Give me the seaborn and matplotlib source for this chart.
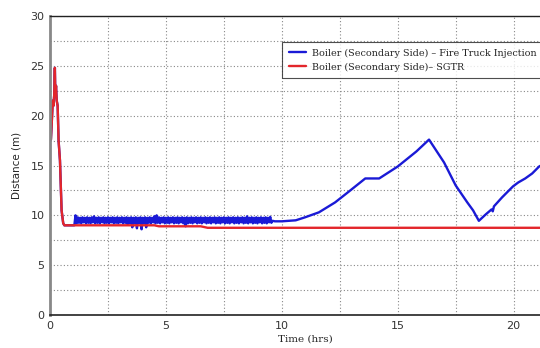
import numpy as np
import pandas as pd
import matplotlib
matplotlib.use("Agg")
import matplotlib.pyplot as plt
from matplotlib.ticker import MultipleLocator
import seaborn as sns

# --- Data ---
SERIES_BLUE = "Boiler (Secondary Side) \u2013 Fire Truck Injection"
SERIES_RED = "Boiler (Secondary Side)\u2013 SGTR"

red_t = [0.0, 0.04, 0.08, 0.12, 0.15, 0.18, 0.21, 0.23, 0.26, 0.29, 0.33, 0.37,
         0.43, 0.5, 0.57, 0.62, 4.5, 4.7, 6.5, 6.8, 22.0]
red_y = [17.5, 17.6, 19.5, 21.5, 21.0, 22.0, 24.8, 22.0, 23.0, 21.5, 21.0, 17.5,
         15.5, 10.5, 9.2, 9.0, 9.0, 8.9, 8.9, 8.75, 8.75]

# blue: start hidden under red, then noisy band, then smooth recovery
blue_start_t = [0.0, 0.04, 0.08, 0.12, 0.15, 0.18, 0.21, 0.23, 0.26, 0.29, 0.33,
                0.37, 0.43, 0.5, 0.57, 0.62, 1.05]
blue_start_y = [17.5, 17.6, 19.5, 21.5, 21.0, 22.0, 24.8, 22.0, 23.0, 21.5, 21.0,
                17.5, 15.5, 10.5, 9.2, 9.0, 9.0]

blue_noise_t = np.round(np.arange(1.1, 9.62, 0.05), 2)
blue_noise_y = [10.0, 9.2, 9.8, 9.25, 9.75, 9.2, 9.8, 9.3, 9.75, 9.2,
                9.8, 9.25, 9.75, 9.2, 9.8, 9.3, 9.9, 9.2, 9.75, 9.25,
                9.8, 9.2, 9.75, 9.3, 9.8, 9.2, 9.75, 9.25, 9.8, 9.2,
                9.75, 9.3, 9.8, 9.2, 9.75, 9.25, 9.8, 9.2, 9.75, 9.3,
                9.8, 9.2, 9.75, 9.25, 9.8, 9.1, 9.75, 9.2, 9.8, 8.8,
                9.75, 9.2, 9.8, 8.7, 9.75, 9.25, 9.8, 8.6, 9.75, 9.2,
                9.8, 8.8, 9.75, 9.25, 9.8, 9.2, 9.75, 9.3, 9.9, 9.2,
                10.0, 9.25, 9.8, 9.2, 9.75, 9.3, 9.8, 9.2, 9.75, 9.25,
                9.8, 9.2, 9.75, 9.3, 9.8, 9.2, 9.75, 9.25, 9.8, 9.2,
                9.75, 9.3, 9.8, 9.2, 9.75, 8.9, 9.8, 9.2, 9.75, 9.25,
                9.8, 9.2, 9.75, 9.3, 9.8, 9.2, 9.75, 9.25, 9.8, 9.2,
                9.75, 9.3, 9.8, 9.2, 9.75, 9.25, 9.8, 9.2, 9.75, 9.3,
                9.8, 9.2, 9.75, 9.25, 9.8, 9.2, 9.75, 9.3, 9.8, 9.2,
                9.75, 9.25, 9.8, 9.2, 9.75, 9.3, 9.8, 9.2, 9.75, 9.25,
                9.8, 9.2, 9.75, 9.3, 9.8, 9.2, 9.75, 9.25, 9.9, 9.2,
                9.75, 9.3, 9.8, 9.2, 9.75, 9.25, 9.8, 9.2, 9.75, 9.3,
                9.8, 9.2, 9.75, 9.25, 9.8, 9.2, 9.75, 9.3, 9.85, 9.25,
                9.45]

blue_end_t = [9.7, 10.0, 10.6, 11.0, 11.6, 12.3, 12.9, 13.6, 14.2, 15.0, 15.8,
              16.35, 17.0, 17.5, 18.0, 18.25, 18.5, 18.8, 19.05, 19.1, 19.15,
              19.5, 19.97, 20.2, 20.35, 20.5, 20.8, 21.1, 21.5]
blue_end_y = [9.4, 9.4, 9.5, 9.8, 10.3, 11.3, 12.4, 13.7, 13.7, 14.9, 16.4,
              17.6, 15.3, 13.0, 11.3, 10.5, 9.45, 10.1, 10.6, 10.4, 10.9,
              11.8, 12.9, 13.3, 13.5, 13.7, 14.2, 14.9, 15.4]

blue_t = list(blue_start_t) + list(blue_noise_t) + list(blue_end_t)
blue_y = list(blue_start_y) + list(blue_noise_y) + list(blue_end_y)

df = pd.concat([
    pd.DataFrame({"t": blue_t, "d": blue_y, "s": SERIES_BLUE}),
    pd.DataFrame({"t": red_t, "d": red_y, "s": SERIES_RED}),
])

# --- Plot ---
sns.set_style("white")
fig = plt.figure(figsize=(5.4, 3.48), dpi=100)
ax = fig.add_axes([50 / 540, 33 / 348, 510 / 540, 299 / 348])

sns.lineplot(data=df, x="t", y="d", hue="s", estimator=None, sort=False,
             palette={SERIES_BLUE: "#1a1ad6", SERIES_RED: "#e3262b"},
             linewidth=1.7, ax=ax)

ax.set_xlim(0, 22)
ax.set_ylim(0, 30)
ax.xaxis.set_major_locator(MultipleLocator(5))
ax.xaxis.set_minor_locator(MultipleLocator(2.5))
ax.yaxis.set_major_locator(MultipleLocator(5))
ax.yaxis.set_minor_locator(MultipleLocator(2.5))
ax.grid(True, which="both", linestyle=(0, (1, 2)), color="#888888", linewidth=0.8)
ax.tick_params(which="both", length=0, labelsize=8, pad=4, colors="#333333")
for lab in ax.get_xticklabels() + ax.get_yticklabels():
    lab.set_family("DejaVu Sans")

ax.spines["left"].set_color("#888888")
ax.spines["left"].set_linewidth(2)
ax.spines["bottom"].set_color("#222222")
ax.spines["bottom"].set_linewidth(1.2)
ax.spines["top"].set_color("#222222")
ax.spines["top"].set_linewidth(1.0)
ax.spines["right"].set_visible(False)

ax.set_xlabel("Time (hrs)", family="DejaVu Serif", fontsize=7.5, labelpad=3)
ax.set_ylabel("Distance (m)", family="DejaVu Sans", fontsize=7.5, labelpad=6)

# legend frame runs off the right edge, as in the reference
leg = ax.legend(loc="upper left", bbox_to_anchor=(282 / 540, 1 - 42 / 348),
                bbox_transform=fig.transFigure, frameon=True, fancybox=False,
                prop={"family": "DejaVu Serif", "size": 6.9}, handlelength=1.8,
                borderaxespad=0, borderpad=0.7, labelspacing=0.5, handletextpad=0.6)
leg.get_frame().set_edgecolor("#222222")
leg.get_frame().set_linewidth(0.8)
for line in leg.get_lines():
    line.set_linewidth(1.7)

fig.savefig("out.png", dpi=100)
